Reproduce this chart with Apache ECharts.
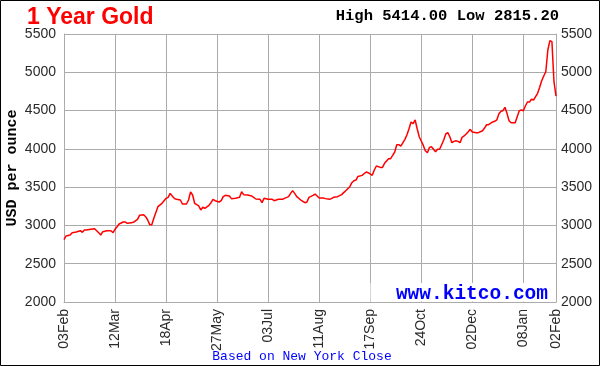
<!DOCTYPE html>
<html>
<head>
<meta charset="utf-8">
<script src="https://cdn.jsdelivr.net/npm/echarts@6/dist/echarts.min.js"></script>
<style>
html,body{margin:0;padding:0;background:#fff;}
#chart{width:600px;height:366px;}
</style>
</head>
<body>
<div id="chart"></div>
<script>
// trading-day index (x) and New York close (USD/oz)
const dayIndex = [0,1,3,4,6,8,9,10,11,13,15,16,17,18,19,21,23,24,25,26,27,29,30,31,33,34,36,37,39,40,41,42,43,44,45,46,48,50,51,52,53,54,55,57,58,60,61,62,63,64,65,66,67,68,69,71,72,73,74,76,77,78,79,81,82,84,86,87,88,90,92,94,96,97,98,100,102,103,105,107,108,110,111,112,113,114,116,118,119,120,122,123,124,125,127,128,130,131,132,134,136,137,138,140,141,142,143,144,146,148,149,151,152,153,155,156,157,159,160,161,162,163,164,165,167,168,169,170,171,172,173,174,175,176,177,178,179,180,182,183,184,186,187,188,189,190,191,192,193,194,195,196,197,198,199,200,202,203,205,206,207,208,210,211,212,213,214,215,216,217,218,219,221,222,223,224,225,226,227,228,229,230,231,232,233,234,235,236,237,238,239,240,241];
const closePrice = [2815,2862,2875,2905,2914,2931,2910,2940,2940,2949,2957,2931,2905,2875,2918,2931,2931,2905,2949,2983,3019,3045,3045,3028,3036,3040,3080,3132,3140,3114,3071,3010,3010,3093,3170,3245,3289,3354,3367,3419,3384,3354,3341,3332,3280,3280,3332,3436,3397,3289,3271,3254,3202,3237,3224,3263,3297,3341,3323,3306,3323,3376,3393,3384,3350,3354,3367,3441,3402,3397,3384,3345,3341,3297,3354,3341,3341,3323,3341,3341,3354,3376,3419,3454,3419,3376,3332,3297,3306,3367,3393,3410,3384,3358,3358,3350,3341,3350,3367,3376,3402,3428,3454,3506,3558,3584,3593,3640,3654,3698,3689,3654,3724,3776,3758,3758,3811,3872,3872,3915,3959,4054,4054,4037,4124,4184,4263,4351,4330,4377,4263,4158,4102,4045,3975,3950,4019,4028,3963,3994,3994,4115,4194,4211,4158,4080,4098,4106,4098,4080,4150,4168,4194,4224,4255,4220,4211,4211,4237,4272,4315,4315,4351,4360,4377,4455,4490,4498,4542,4464,4368,4342,4342,4420,4498,4507,4498,4560,4612,4612,4647,4638,4681,4725,4804,4890,4951,5007,5291,5414,5400,4880,4690];
const tickIndex = [0,25,50,75,100,125,150,175,200,225,241];
const tickLabels = ['03Feb','12Mar','18Apr','27May','03Jul','11Aug','17Sep','24Oct','02Dec','08Jan','02Feb'];
const titleText = '1 Year Gold';
const highLowText = 'High 5414.00 Low 2815.20';
const yName = 'USD per ounce';
const footText = 'Based on New York Close';
const brandText = 'www.kitco.com';

const labelMap = {};
tickIndex.forEach((v,i)=>{ labelMap[v] = tickLabels[i]; });
const seriesData = dayIndex.map((d,i)=>[d, closePrice[i]]);

const gridColor = '#ababab';
const labelFont = {fontFamily:'Liberation Sans', fontSize:14, color:'#2a2a2a'};

const chart = echarts.init(document.getElementById('chart'), null, {renderer:'canvas'});
chart.setOption({
  animation:false,
  backgroundColor:'#fff',
  title:{
    text: titleText, left: 27, top: 6, padding:0,
    textStyle:{color:'#ff0000', fontWeight:'bold', fontSize:23, fontFamily:'Liberation Sans'}
  },
  grid:{left:64, right:44, top:34, bottom:64, containLabel:false, outerBoundsMode:'none'},
  xAxis:{
    type:'value', min:0, max:241,
    axisLine:{show:true, lineStyle:{color:gridColor, width:1}},
    axisTick:{show:false, customValues: tickIndex},
    splitLine:{show:true, lineStyle:{color:gridColor, width:1}},
    axisLabel:Object.assign({
      customValues: tickIndex, rotate:90, margin:7,
      formatter:(v)=> labelMap[v] || ''
    }, labelFont)
  },
  yAxis:[{
    type:'value', min:2000, max:5500, interval:500, position:'left',
    name: yName, nameLocation:'middle', nameRotate:90, nameGap:44, nameMoveOverlap:false,
    nameTextStyle:{fontFamily:'Liberation Mono', fontWeight:'bold', fontSize:15, color:'#000'},
    axisLine:{show:true, lineStyle:{color:gridColor}},
    axisTick:{show:false},
    splitLine:{show:true, lineStyle:{color:gridColor, width:1}},
    axisLabel:Object.assign({margin:8, formatter:(v)=>String(v)}, labelFont)
  },{
    type:'value', min:2000, max:5500, interval:500, position:'right',
    axisLine:{show:true, lineStyle:{color:gridColor}},
    axisTick:{show:false},
    splitLine:{show:false},
    axisLabel:Object.assign({margin:5, formatter:(v)=>String(v)}, labelFont)
  }],
  series:[{
    type:'line', data: seriesData, yAxisIndex:0,
    showSymbol:false, symbol:'none',
    lineStyle:{color:'#ff0000', width:1.5},
    z:5
  }],
  graphic:[
    {type:'rect', z:10, shape:{x:370.5, y:283, width:185, height:18.5}, style:{fill:'#fff'}},
    {type:'text', z:11, style:{text: brandText, x:548, y:294.5, textAlign:'right', textVerticalAlign:'middle',
      font:'bold 19.5px "Liberation Mono"', fill:'#0000ff'}},
    {type:'text', z:11, style:{text: highLowText, x:559, y:16, textAlign:'right', textVerticalAlign:'middle',
      font:'bold 15.5px "Liberation Mono"', fill:'#000'}},
    {type:'text', z:11, style:{text: footText, x:302, y:357, textAlign:'center', textVerticalAlign:'middle',
      font:'13px "Liberation Mono"', fill:'#0000ff'}},
    {type:'rect', z:20, shape:{x:0.5, y:0.5, width:599, height:365}, style:{fill:'none', stroke:'#000', lineWidth:1}}
  ]
});
</script>
</body>
</html>
